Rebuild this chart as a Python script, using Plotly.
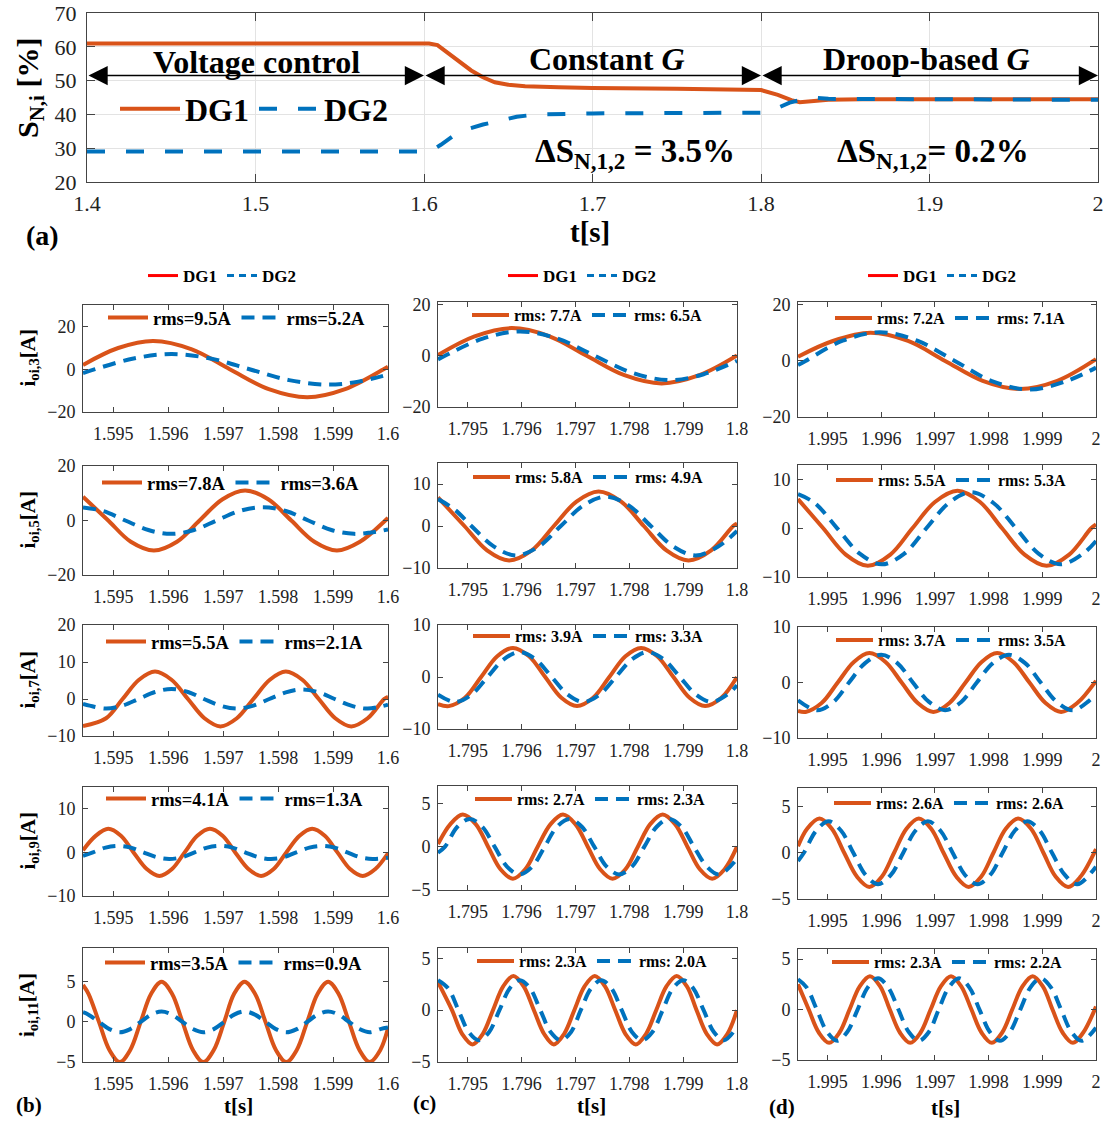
import plotly.graph_objects as go

# ---------------- data ----------------
# (a) normalised apparent power, %
top_t_dg1 = [1.4, 1.5, 1.6, 1.603, 1.608, 1.615, 1.622, 1.628, 1.635, 1.642, 1.65, 1.66, 1.68, 1.7,
             1.75, 1.795, 1.8, 1.81, 1.818, 1.823, 1.83, 1.84, 1.86, 1.9, 1.95, 2.0]
top_dg1 = [61.0, 61.0, 61.0, 61.0, 60.5, 58.0, 55.5, 53.0, 51.0, 49.5, 48.8, 48.3, 48.0, 47.8,
           47.6, 47.5, 47.2, 45.8, 44.2, 43.6, 43.8, 44.3, 44.5, 44.5, 44.5, 44.5]
top_t_dg2 = [1.4, 1.5, 1.6, 1.605, 1.61, 1.617, 1.625, 1.635, 1.645, 1.655, 1.667, 1.7, 1.75, 1.8,
             1.808, 1.817, 1.83, 1.84, 1.9, 2.0]
top_dg2 = [29.0, 29.0, 29.0, 29.5, 31.0, 33.5, 35.5, 37.0, 38.3, 39.3, 40.0, 40.3, 40.4, 40.5,
           41.5, 43.5, 45.0, 44.6, 44.5, 44.3]

harmonics = [3, 5, 7, 9, 11]

# (b) voltage control, t = 1.594..1.6 s   (t1/i1: DG1, t2/i2: DG2)
b3_t1 = [1.59445, 1.59509, 1.59573, 1.59643, 1.59712, 1.59783, 1.59853, 1.59922, 1.59992, 1.6]
b3_i1 = [2.0, 9.9, 13.2, 9.3, 0, -9.3, -13.1, -9.3, 0, 1.2]
b3_t2 = [1.59445, 1.59467, 1.59537, 1.59606, 1.59677, 1.59748, 1.5982, 1.59891, 1.59946, 1.6]
b3_i2 = [-1.8, 0, 5.0, 7.1, 5.0, 0, -5.1, -7.2, -5.8, -2.5]
b5_t1 = [1.59445, 1.59491, 1.59532, 1.59574, 1.59616, 1.59657, 1.59699, 1.5974, 1.59782, 1.59824,
         1.59866, 1.59907, 1.59949, 1.59995, 1.6]
b5_i1 = [8.7, 0, -7.8, -11.0, -7.8, 0, 7.8, 11.0, 7.8, 0, -7.8, -11.0, -7.8, 0, 1.0]
b5_t2 = [1.59445, 1.59481, 1.59522, 1.59564, 1.59605, 1.59647, 1.59688, 1.5973, 1.59772, 1.59814,
         1.59855, 1.59897, 1.59938, 1.59969, 1.6]
b5_i2 = [4.8, 3.5, 0, -3.5, -4.9, -3.5, 0, 3.5, 4.9, 3.5, 0, -3.5, -4.9, -4.4, -3.3]
b7_t1 = [1.59445, 1.59487, 1.59517, 1.59547, 1.59576, 1.59606, 1.59636, 1.59666, 1.59695, 1.59725,
         1.59755, 1.59785, 1.59814, 1.59844, 1.59874, 1.59904, 1.59933, 1.59963, 1.59993, 1.6]
b7_i1 = [-7.3, -5.2, 0, 5.2, 7.4, 5.2, 0, -5.2, -7.4, -5.2, 0, 5.2, 7.4, 5.2, 0, -5.2, -7.4, -5.2, 0, 0.6]
b7_t2 = [1.59445, 1.59457, 1.59487, 1.59517, 1.59546, 1.59576, 1.59606, 1.59636, 1.59665, 1.59695,
         1.59725, 1.59755, 1.59784, 1.59814, 1.59844, 1.59874, 1.59903, 1.59933, 1.59963, 1.6]
b7_i2 = [-1.3, -1.8, -2.6, -1.8, 0, 1.9, 2.7, 1.9, 0, -1.8, -2.6, -1.8, 0, 1.8, 2.6, 1.8, 0, -1.8, -2.6, -1.5]
b9_t1 = [1.59445, 1.59468, 1.59491, 1.59514, 1.59537, 1.59561, 1.59584, 1.59607, 1.5963, 1.59653,
         1.59676, 1.59699, 1.59722, 1.59746, 1.59769, 1.59792, 1.59815, 1.59839, 1.59862, 1.59885,
         1.59908, 1.59931, 1.59954, 1.59977, 1.6]
b9_i1 = [0.5, 3.8, 5.4, 3.8, 0, -3.8, -5.4, -3.8, 0, 3.8, 5.4, 3.8, 0, -3.8, -5.4, -3.8, 0, 3.8, 5.4, 3.8,
         0, -3.8, -5.4, -3.8, -0.2]
b9_t2 = [1.59445, 1.59463, 1.59486, 1.59509, 1.59532, 1.59555, 1.59579, 1.59602, 1.59625, 1.59648,
         1.59671, 1.59694, 1.59717, 1.5974, 1.59764, 1.59787, 1.5981, 1.59833, 1.59857, 1.5988,
         1.59903, 1.59926, 1.59949, 1.59972, 1.6]
b9_i2 = [-0.8, 0, 1.1, 1.5, 1.1, 0, -1.1, -1.5, -1.1, 0, 1.1, 1.5, 1.1, 0, -1.1, -1.5, -1.1, 0, 1.1, 1.5,
         1.1, 0, -1.1, -1.5, -1.2]
b11_t1 = [1.59445, 1.59455, 1.59474, 1.59493, 1.59512, 1.59531, 1.5955, 1.59569, 1.59588, 1.59607,
          1.59626, 1.59645, 1.59664, 1.59683, 1.59702, 1.5972, 1.59739, 1.59758, 1.59777, 1.59796,
          1.59815, 1.59834, 1.59853, 1.59872, 1.59891, 1.5991, 1.59929, 1.59948, 1.59967, 1.59986, 1.6]
b11_i1 = [4.6, 3.5, 0, -3.5, -5.0, -3.5, 0, 3.5, 5.0, 3.5, 0, -3.5, -5.0, -3.5, 0, 3.5, 5.0, 3.5, 0,
          -3.5, -5.0, -3.5, 0, 3.5, 5.0, 3.5, 0, -3.5, -5.0, -3.5, -0.8]
b11_t2 = [1.59445, 1.59455, 1.59474, 1.59493, 1.59512, 1.59531, 1.5955, 1.59569, 1.59588, 1.59607,
          1.59626, 1.59645, 1.59664, 1.59683, 1.59702, 1.5972, 1.59739, 1.59758, 1.59777, 1.59796,
          1.59815, 1.59834, 1.59853, 1.59872, 1.59891, 1.5991, 1.59929, 1.59948, 1.59967, 1.59986, 1.6]
b11_i2 = [1.2, 0.9, 0, -0.9, -1.3, -0.9, 0, 0.9, 1.3, 0.9, 0, -0.9, -1.3, -0.9, 0, 0.9, 1.3, 0.9, 0,
          -0.9, -1.3, -0.9, 0, 0.9, 1.3, 0.9, 0, -0.9, -1.3, -0.9, -0.7]

# (c) constant G, t = 1.794..1.8 s
c3_t1 = [1.79445, 1.79513, 1.79582, 1.79652, 1.79721, 1.79791, 1.7986, 1.7993, 1.8]
c3_i1 = [0.3, 7.6, 10.8, 7.6, 0, -7.6, -10.8, -7.6, 0.1]
c3_t2 = [1.79445, 1.79458, 1.79528, 1.79597, 1.79667, 1.79736, 1.79806, 1.79875, 1.79938, 1.8]
c3_i2 = [-1.4, 0, 6.7, 9.5, 6.7, 0, -6.7, -9.5, -7.2, -2.0]
c5_t1 = [1.79445, 1.79494, 1.79536, 1.79577, 1.79619, 1.7966, 1.79702, 1.79743, 1.79785, 1.79827,
         1.79869, 1.7991, 1.79952, 1.79993, 1.8]
c5_i1 = [6.8, 0, -5.8, -8.2, -5.8, 0, 5.8, 8.2, 5.8, 0, -5.8, -8.2, -5.8, 0, 0.6]
c5_t2 = [1.79445, 1.79476, 1.79507, 1.79549, 1.7959, 1.79632, 1.79673, 1.79715, 1.79757, 1.79799,
         1.7984, 1.79882, 1.79923, 1.79965, 1.8]
c5_i2 = [6.4, 3.9, 0, -4.9, -7.0, -4.9, 0, 4.9, 7.0, 4.9, 0, -4.9, -7.0, -4.9, -1.2]
c7_t1 = [1.79445, 1.79465, 1.79495, 1.79525, 1.79555, 1.79584, 1.79614, 1.79644, 1.79674, 1.79703,
         1.79733, 1.79763, 1.79793, 1.79822, 1.79852, 1.79882, 1.79912, 1.79941, 1.79971, 1.8]
c7_i1 = [-5.2, -5.6, -4.0, 0, 4.0, 5.6, 4.0, 0, -4.0, -5.6, -4.0, 0, 4.0, 5.6, 4.0, 0, -4.0, -5.6, -4.0, 0]
c7_t2 = [1.79445, 1.79477, 1.79507, 1.79537, 1.79567, 1.79596, 1.79626, 1.79656, 1.79686, 1.79715,
         1.79745, 1.79775, 1.79805, 1.79834, 1.79864, 1.79894, 1.79924, 1.79953, 1.79983, 1.8]
c7_i2 = [-3.4, -4.8, -3.4, 0, 3.4, 4.8, 3.4, 0, -3.4, -4.8, -3.4, 0, 3.4, 4.8, 3.4, 0, -3.4, -4.8, -3.3, -1.6]
c9_t1 = [1.79445, 1.79468, 1.79491, 1.79515, 1.79538, 1.79561, 1.79584, 1.79607, 1.7963, 1.79654,
         1.79677, 1.797, 1.79723, 1.79746, 1.79769, 1.79793, 1.79816, 1.79839, 1.79862, 1.79885,
         1.79908, 1.79931, 1.79954, 1.79977, 1.8]
c9_i1 = [0.3, 2.6, 3.7, 2.6, 0, -2.6, -3.7, -2.6, 0, 2.6, 3.7, 2.6, 0, -2.6, -3.7, -2.6, 0, 2.6, 3.7, 2.6,
         0, -2.6, -3.7, -2.6, 0]
c9_t2 = [1.79445, 1.79458, 1.79481, 1.79504, 1.79527, 1.7955, 1.79573, 1.79596, 1.7962, 1.79643,
         1.79666, 1.79689, 1.79712, 1.79735, 1.79758, 1.79781, 1.79805, 1.79828, 1.79851, 1.79874,
         1.79897, 1.7992, 1.79944, 1.79967, 1.8]
c9_i2 = [-0.7, 0, 2.3, 3.2, 2.3, 0, -2.3, -3.2, -2.3, 0, 2.3, 3.2, 2.3, 0, -2.3, -3.2, -2.3, 0, 2.3, 3.2,
         2.3, 0, -2.3, -3.2, -1.4]
c11_t1 = [1.79445, 1.79471, 1.7949, 1.79509, 1.79528, 1.79547, 1.79566, 1.79585, 1.79604, 1.79623,
          1.79642, 1.7966, 1.79679, 1.79698, 1.79717, 1.79736, 1.79755, 1.79774, 1.79793, 1.79812,
          1.79831, 1.7985, 1.79869, 1.79888, 1.79907, 1.79925, 1.79944, 1.79963, 1.79982, 1.8]
c11_i1 = [2.7, 0, -2.3, -3.3, -2.3, 0, 2.3, 3.3, 2.3, 0, -2.3, -3.3, -2.3, 0, 2.3, 3.3, 2.3, 0, -2.3,
          -3.3, -2.3, 0, 2.3, 3.3, 2.3, 0, -2.3, -3.3, -2.3, 0]
c11_t2 = [1.79445, 1.79464, 1.79483, 1.79502, 1.79521, 1.7954, 1.79559, 1.79578, 1.79597, 1.79616,
          1.79635, 1.79654, 1.79673, 1.79692, 1.7971, 1.79729, 1.79748, 1.79767, 1.79786, 1.79805,
          1.79824, 1.79843, 1.79862, 1.79881, 1.799, 1.79919, 1.79938, 1.79957, 1.79976, 1.8]
c11_i2 = [2.9, 2.1, 0, -2.1, -2.9, -2.1, 0, 2.1, 2.9, 2.1, 0, -2.1, -2.9, -2.1, 0, 2.1, 2.9, 2.1, 0,
          -2.1, -2.9, -2.1, 0, 2.1, 2.9, 2.1, 0, -2.1, -2.9, -1.6]

# (d) droop-based G, t = 1.994..2 s
d3_t1 = [1.99445, 1.9951, 1.9958, 1.9965, 1.99719, 1.99789, 1.99858, 1.99928, 2.0]
d3_i1 = [1.5, 7.1, 10.0, 7.1, 0, -7.1, -10.0, -7.1, 0.6]
d3_t2 = [1.99445, 1.99459, 1.99528, 1.99598, 1.99667, 1.99737, 1.99806, 1.99876, 1.99945, 2.0]
d3_i2 = [-1.5, 0, 7.2, 10.2, 7.2, 0, -7.2, -10.2, -7.2, -2.4]
d5_t1 = [1.99445, 1.99492, 1.99534, 1.99575, 1.99617, 1.99658, 1.997, 1.99742, 1.99784, 1.99825,
         1.99867, 1.99908, 1.9995, 1.99991, 2.0]
d5_i1 = [6.0, 0, -5.4, -7.7, -5.4, 0, 5.4, 7.7, 5.4, 0, -5.4, -7.7, -5.4, 0, 0.8]
d5_t2 = [1.99445, 1.99476, 1.99518, 1.9956, 1.99601, 1.99643, 1.99684, 1.99726, 1.99767, 1.99809,
         1.99851, 1.99893, 1.99934, 1.99976, 2.0]
d5_i2 = [7.0, 5.2, 0, -5.2, -7.4, -5.2, 0, 5.2, 7.4, 5.2, 0, -5.2, -7.4, -5.2, -2.6]
d7_t1 = [1.99445, 1.99459, 1.99489, 1.99519, 1.99549, 1.99578, 1.99608, 1.99638, 1.99668, 1.99697,
         1.99727, 1.99757, 1.99787, 1.99816, 1.99846, 1.99876, 1.99906, 1.99935, 1.99965, 2.0]
d7_i1 = [-5.1, -5.3, -3.7, 0, 3.7, 5.3, 3.7, 0, -3.7, -5.3, -3.7, 0, 3.7, 5.3, 3.7, 0, -3.7, -5.3, -3.7, 0.3]
d7_t2 = [1.99445, 1.99481, 1.99511, 1.9954, 1.9957, 1.996, 1.9963, 1.99659, 1.99689, 1.99719,
         1.99749, 1.99778, 1.99808, 1.99838, 1.99868, 1.99897, 1.99927, 1.99957, 1.99987, 2.0]
d7_i2 = [-3.2, -5.0, -3.5, 0, 3.5, 5.0, 3.5, 0, -3.5, -5.0, -3.5, 0, 3.5, 5.0, 3.5, 0, -3.5, -5.0, -3.3, -2.1]
d9_t1 = [1.99445, 1.99462, 1.99485, 1.99508, 1.99531, 1.99555, 1.99578, 1.99601, 1.99624, 1.99647,
         1.9967, 1.99693, 1.99716, 1.9974, 1.99763, 1.99786, 1.99809, 1.99832, 1.99855, 1.99879,
         1.99902, 1.99925, 1.99948, 1.99971, 2.0]
d9_i1 = [0.7, 2.6, 3.7, 2.6, 0, -2.6, -3.7, -2.6, 0, 2.6, 3.7, 2.6, 0, -2.6, -3.7, -2.6, 0, 2.6, 3.7, 2.6,
         0, -2.6, -3.7, -2.6, 0.4]
d9_t2 = [1.99445, 1.99456, 1.99479, 1.99502, 1.99525, 1.99548, 1.99571, 1.99594, 1.99618, 1.99641,
         1.99664, 1.99687, 1.9971, 1.99733, 1.99756, 1.99779, 1.99803, 1.99826, 1.99849, 1.99872,
         1.99895, 1.99918, 1.99942, 1.99965, 2.0]
d9_i2 = [-0.9, 0, 2.4, 3.4, 2.4, 0, -2.4, -3.4, -2.4, 0, 2.4, 3.4, 2.4, 0, -2.4, -3.4, -2.4, 0, 2.4, 3.4,
         2.4, 0, -2.4, -3.4, -1.5]
d11_t1 = [1.99445, 1.99465, 1.99484, 1.99503, 1.99522, 1.99541, 1.9956, 1.99579, 1.99598, 1.99616,
          1.99635, 1.99654, 1.99673, 1.99692, 1.99711, 1.9973, 1.99749, 1.99768, 1.99787, 1.99806,
          1.99825, 1.99844, 1.99863, 1.99882, 1.99901, 1.99919, 1.99938, 1.99957, 1.99976, 2.0]
d11_i1 = [2.5, 0, -2.3, -3.3, -2.3, 0, 2.3, 3.3, 2.3, 0, -2.3, -3.3, -2.3, 0, 2.3, 3.3, 2.3, 0, -2.3,
          -3.3, -2.3, 0, 2.3, 3.3, 2.3, 0, -2.3, -3.3, -2.3, 0.3]
d11_t2 = [1.99445, 1.99461, 1.9948, 1.99499, 1.99518, 1.99537, 1.99556, 1.99575, 1.99594, 1.99613,
          1.99632, 1.99651, 1.9967, 1.99689, 1.99707, 1.99726, 1.99745, 1.99764, 1.99783, 1.99802,
          1.99821, 1.9984, 1.99859, 1.99878, 1.99897, 1.99916, 1.99935, 1.99954, 1.99973, 2.0]
d11_i2 = [3.0, 2.2, 0, -2.2, -3.1, -2.2, 0, 2.2, 3.1, 2.2, 0, -2.2, -3.1, -2.2, 0, 2.2, 3.1, 2.2, 0,
          -2.2, -3.1, -2.2, 0, 2.2, 3.1, 2.2, 0, -2.2, -3.1, -1.8]

# rms values shown in the panel legends
rms_b1 = ["9.5", "7.8", "5.5", "4.1", "3.5"]
rms_b2 = ["5.2", "3.6", "2.1", "1.3", "0.9"]
rms_c1 = ["7.7", "5.8", "3.9", "2.7", "2.3"]
rms_c2 = ["6.5", "4.9", "3.3", "2.3", "2.0"]
rms_d1 = ["7.2", "5.5", "3.7", "2.6", "2.3"]
rms_d2 = ["7.1", "5.3", "3.5", "2.6", "2.2"]

# x tick labels of each column
ticks_b = [1.595, 1.596, 1.597, 1.598, 1.599, 1.6]
ticks_c = [1.795, 1.796, 1.797, 1.798, 1.799, 1.8]
ticks_d = [1.995, 1.996, 1.997, 1.998, 1.999, 2.0]
ticklab_b = ["1.595", "1.596", "1.597", "1.598", "1.599", "1.6"]
ticklab_c = ["1.795", "1.796", "1.797", "1.798", "1.799", "1.8"]
ticklab_d = ["1.995", "1.996", "1.997", "1.998", "1.999", "2"]

# ---------------- styling / layout ----------------
W, H = 1110, 1127
FONT = "Liberation Serif, Times New Roman, Times, serif"
C1 = "#D95319"
C2 = "#0072BD"
AX = "#444444"


def fx(p):
    return p / W


def fy(p):
    return 1 - p / H


fig = go.Figure()

# ----- panel (a) -----
fig.add_trace(go.Scatter(x=top_t_dg1, y=top_dg1, mode="lines", name="DG1",
                         line=dict(color=C1, width=4), legend="legend"))
fig.add_trace(go.Scatter(x=top_t_dg2, y=top_dg2, mode="lines", name="DG2",
                         line=dict(color=C2, width=4, dash="18px,21px"), legend="legend"))

lay = dict(
    width=W, height=H, margin=dict(l=0, r=0, t=0, b=0, pad=0, autoexpand=False),
    paper_bgcolor="white", plot_bgcolor="white", showlegend=True,
    font=dict(family=FONT, color="black"),
)
lay["xaxis"] = dict(domain=[fx(87), fx(1098)], range=[1.4, 2.0], tickvals=[1.4, 1.5, 1.6, 1.7, 1.8, 1.9, 2.0],
                    ticktext=["1.4", "1.5", "1.6", "1.7", "1.8", "1.9", "2"], automargin=False,
                    showline=True, linecolor=AX, mirror="ticks", ticks="inside", ticklen=8, tickcolor=AX,
                    showgrid=True, gridcolor="#e3e3e3", zeroline=False,
                    tickfont=dict(size=22, family=FONT, color="#222"),
                    ticklabelstandoff=2, anchor="y")
lay["yaxis"] = dict(domain=[fy(182), fy(13)], range=[20, 70], tickvals=[20, 30, 40, 50, 60, 70],
                    showline=True, linecolor=AX, mirror="ticks", ticks="inside", ticklen=8, tickcolor=AX,
                    showgrid=True, gridcolor="#e3e3e3", zeroline=False,
                    tickfont=dict(size=22, family=FONT, color="#222"),
                    ticklabelstandoff=5, anchor="x", automargin=False)
lay["legend"] = dict(orientation="h", x=fx(115), y=fy(109), xanchor="left", yanchor="middle",
                     bgcolor="rgba(0,0,0,0)", font=dict(size=32, weight="bold"), itemwidth=60)

annotations = []


def ann(text, x, y, size, xref="paper", yref="paper", bold=True, angle=0, xanchor="center", yanchor="middle"):
    annotations.append(dict(text=text, x=x, y=y, xref=xref, yref=yref, showarrow=False,
                            font=dict(size=size, family=FONT, color="black", weight="bold" if bold else "normal"),
                            textangle=angle, xanchor=xanchor, yanchor=yanchor))


# double-headed arrows of the three control modes
for xa, xb in [(1.4, 1.6), (1.6, 1.8), (1.8, 2.0)]:
    annotations.append(dict(x=xb, y=51.5, ax=xa, ay=51.5, xref="x", yref="y", axref="x", ayref="y",
                            text="", showarrow=True, arrowside="end+start", arrowhead=2, arrowsize=2.4,
                            arrowwidth=1.6, arrowcolor="black", standoff=0, startstandoff=0))
ann("Voltage control", 1.5003, 55.4, 32, xref="x", yref="y")
ann("Constant <i>G</i>", 1.7086, 56.3, 32, xref="x", yref="y")
ann("Droop-based <i>G</i>", 1.8985, 56.3, 32, xref="x", yref="y")
ann("ΔS<sub>N,1,2</sub> = 3.5%", 1.725, 28.4, 33, xref="x", yref="y")
ann("ΔS<sub>N,1,2</sub>= 0.2%", 1.902, 28.4, 33, xref="x", yref="y")
ann("S<sub>N,i</sub> [%]", fx(30), fy(88), 30, angle=-90)
ann("t[s]", fx(590), fy(232), 29)
ann("(a)", fx(42), fy(236), 28)

# ----- panels (b), (c), (d) -----
cols = [
    dict(series=[(b3_t1, b3_i1, b3_t2, b3_i2), (b5_t1, b5_i1, b5_t2, b5_i2), (b7_t1, b7_i1, b7_t2, b7_i2),
                 (b9_t1, b9_i1, b9_t2, b9_i2), (b11_t1, b11_i1, b11_t2, b11_i2)],
         rms1=rms_b1, rms2=rms_b2, fmt="rms={}A", ticks=ticks_b, ticklab=ticklab_b,
         xr=[1.59445, 1.6], xpx=(83, 388),
         ypx=[(305, 412), (466, 575), (625, 736), (787, 896), (948, 1062)],
         yr=[[-20, 30], [-20, 20], [-10, 20], [-10, 15], [-5, 9.2]],
         yt=[[-20, 0, 20], [-20, 0, 20], [-10, 0, 10, 20], [-10, 0, 10], [-5, 0, 5]],
         leg=[(108, 318), (102, 483), (106, 642), (106, 799), (105, 963)], lfont=18.5, iw=40,
         head=(148, 276), tlab=(238, 1106), plab=("(b)", 29, 1105)),
    dict(series=[(c3_t1, c3_i1, c3_t2, c3_i2), (c5_t1, c5_i1, c5_t2, c5_i2), (c7_t1, c7_i1, c7_t2, c7_i2),
                 (c9_t1, c9_i1, c9_t2, c9_i2), (c11_t1, c11_i1, c11_t2, c11_i2)],
         rms1=rms_c1, rms2=rms_c2, fmt="rms: {}A", ticks=ticks_c, ticklab=ticklab_c,
         xr=[1.79445, 1.8], xpx=(438, 737),
         ypx=[(302, 407), (463, 568), (625, 729), (786, 890), (948, 1062)],
         yr=[[-20, 21], [-10, 15], [-10, 10], [-5, 7], [-5, 6]],
         yt=[[-20, 0, 20], [-10, 0, 10], [-10, 0, 10], [-5, 0, 5], [-5, 0, 5]],
         leg=[(472, 315), (473, 477), (473, 636), (475, 799), (477, 961)], lfont=16, iw=37,
         head=(508, 276), tlab=(591, 1106), plab=("(c)", 424, 1103)),
    dict(series=[(d3_t1, d3_i1, d3_t2, d3_i2), (d5_t1, d5_i1, d5_t2, d5_i2), (d7_t1, d7_i1, d7_t2, d7_i2),
                 (d9_t1, d9_i1, d9_t2, d9_i2), (d11_t1, d11_i1, d11_t2, d11_i2)],
         rms1=rms_d1, rms2=rms_d2, fmt="rms: {}A", ticks=ticks_d, ticklab=ticklab_d,
         xr=[1.99445, 2.0], xpx=(798, 1096),
         ypx=[(302, 417), (465, 577), (627, 738), (788, 899), (949, 1060)],
         yr=[[-20, 21], [-10, 13], [-10, 10], [-5, 7], [-5, 6]],
         yt=[[-20, 0, 20], [-10, 0, 10], [-10, 0, 10], [-5, 0, 5], [-5, 0, 5]],
         leg=[(835, 318), (836, 480), (836, 640), (834, 803), (832, 962)], lfont=16, iw=37,
         head=(868, 276), tlab=(945, 1108), plab=("(d)", 782, 1107)),
]

k = 2
lg = 2
for ci, col in enumerate(cols):
    for ri in range(5):
        t1, i1, t2, i2 = col["series"][ri]
        xa, ya = f"x{k}", f"y{k}"
        lname = f"legend{lg}"
        fig.add_trace(go.Scatter(x=t1, y=i1, mode="lines", name=col["fmt"].format(col["rms1"][ri]),
                                 line=dict(color=C1, width=4, shape="spline", smoothing=1.0),
                                 xaxis=xa, yaxis=ya, legend=lname))
        fig.add_trace(go.Scatter(x=t2, y=i2, mode="lines", name=col["fmt"].format(col["rms2"][ri]),
                                 line=dict(color=C2, width=4, dash="13px,8px", shape="spline", smoothing=1.0),
                                 xaxis=xa, yaxis=ya, legend=lname))
        y0, y1 = col["ypx"][ri]
        lay[f"xaxis{k}"] = dict(domain=[fx(col["xpx"][0]), fx(col["xpx"][1])], range=col["xr"],
                                tickvals=col["ticks"], ticktext=col["ticklab"], anchor=ya, automargin=False,
                                showline=True, linecolor=AX, mirror="ticks", ticks="inside", ticklen=5,
                                tickcolor=AX, showgrid=False, zeroline=False,
                                tickfont=dict(size=18, family=FONT, color="#222"),
                                ticklabelstandoff=5)
        lay[f"yaxis{k}"] = dict(domain=[fy(y1), fy(y0)], range=col["yr"][ri], tickvals=col["yt"][ri],
                                anchor=xa, showline=True, linecolor=AX, mirror="ticks", ticks="inside",
                                ticklen=5, tickcolor=AX, showgrid=False, zeroline=False, automargin=False,
                                tickfont=dict(size=18, family=FONT, color="#222"), ticklabelstandoff=3)
        lx, ly = col["leg"][ri]
        lay[lname] = dict(orientation="h", x=fx(lx - 5), y=fy(ly), xanchor="left", yanchor="middle",
                          bgcolor="rgba(0,0,0,0)", font=dict(size=col["lfont"], weight="bold"),
                          itemwidth=col["iw"])
        if ci == 0:
            ann(f"i<sub>oi,{harmonics[ri]}</sub>[A]", fx(28), fy((y0 + y1) / 2), 21, angle=-90)
        k += 1
        lg += 1
    # column header legend (legend-only entries)
    hname = f"legend{lg}"
    fig.add_trace(go.Scatter(x=[None], y=[None], mode="lines", name="DG1",
                             line=dict(color="#FF0000", width=3), xaxis=f"x{k-1}", yaxis=f"y{k-1}",
                             legend=hname))
    fig.add_trace(go.Scatter(x=[None], y=[None], mode="lines", name="DG2",
                             line=dict(color=C2, width=3, dash="7px,5px"), xaxis=f"x{k-1}", yaxis=f"y{k-1}",
                             legend=hname))
    hx, hy = col["head"]
    lay[hname] = dict(orientation="h", x=fx(hx - 5), y=fy(hy), xanchor="left", yanchor="middle",
                      bgcolor="rgba(0,0,0,0)", font=dict(size=17, weight="bold"), itemwidth=30)
    lg += 1
    ann("t[s]", fx(col["tlab"][0]), fy(col["tlab"][1]), 21)
    ann(col["plab"][0], fx(col["plab"][1]), fy(col["plab"][2]), 21)

lay["annotations"] = annotations
fig.update_layout(**lay)
fig.write_html("out.html")
